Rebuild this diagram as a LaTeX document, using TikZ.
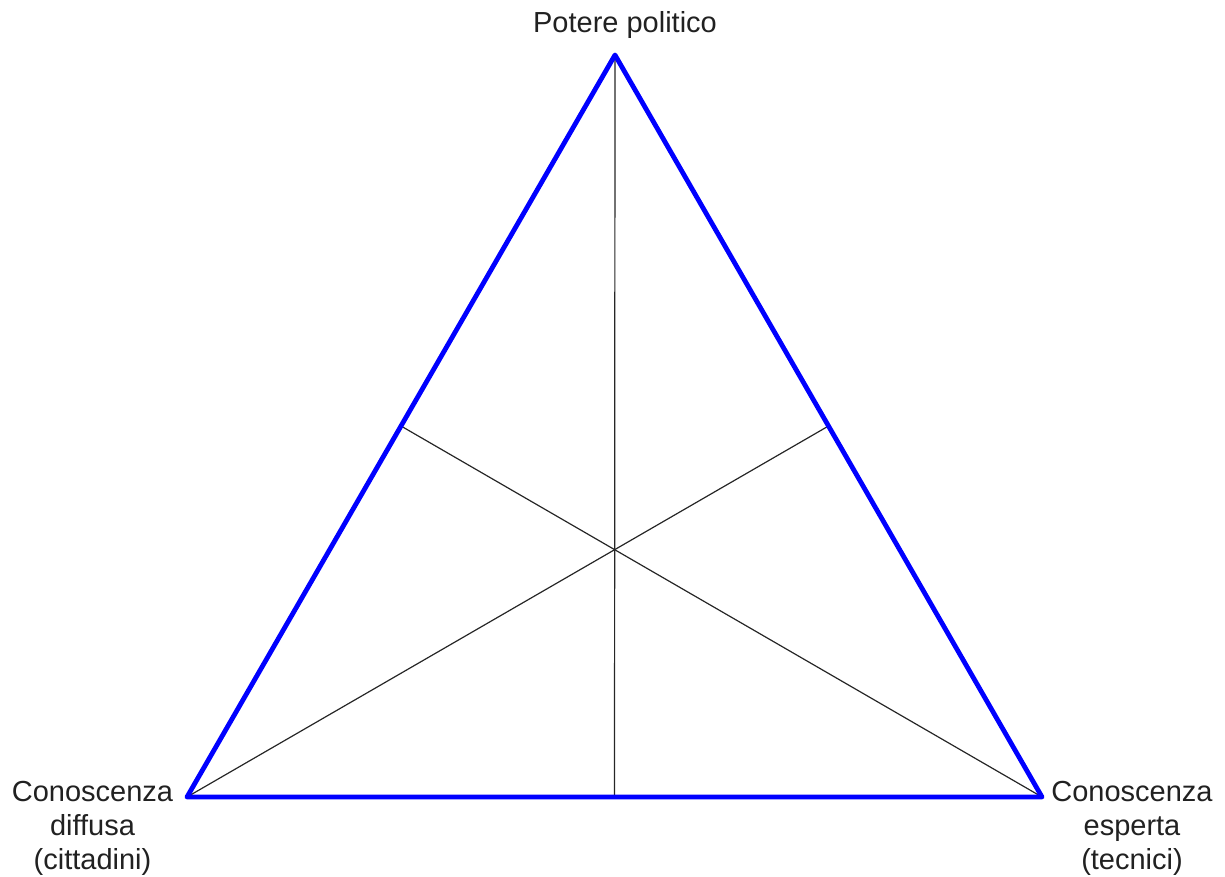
\documentclass[tikz,border=0pt]{standalone}
\usepackage{fontspec}
\setmainfont{Liberation Sans}
\usetikzlibrary{calc}
\begin{document}
\begin{tikzpicture}[x=1pt,y=-1pt,
  edge/.style={draw=blue,line width=4.8pt,line join=round,line cap=round},
  median/.style={draw=black!85,line width=1.2pt},
  lbl/.style={inner sep=0pt,text=black!87,font=\fontsize{29}{34}\selectfont,align=center}]
\useasboundingbox (0,0) rectangle (1225,877);
\coordinate (A) at (615,55);
\coordinate (B) at (187,797);
\coordinate (C) at (1042,797);
\coordinate (mAB) at ($(A)!0.5!(B)$);
\coordinate (mAC) at ($(A)!0.5!(C)$);
\coordinate (mBC) at ($(B)!0.5!(C)$);
\draw[median] (A) -- (mBC);
\draw[median] (B) -- (mAC);
\draw[median] (C) -- (mAB);
\draw[edge] (A) -- (B) -- (C) -- cycle;
\node[lbl,anchor=base] (top) at (625,33) {Potere politico};
\node[lbl,anchor=north] (left) at (92.5,781.5) {Conoscenza\\diffusa\\(cittadini)};
\node[lbl,anchor=north] (right) at (1132,781.5) {Conoscenza\\esperta\\(tecnici)};
\end{tikzpicture}
\end{document}
